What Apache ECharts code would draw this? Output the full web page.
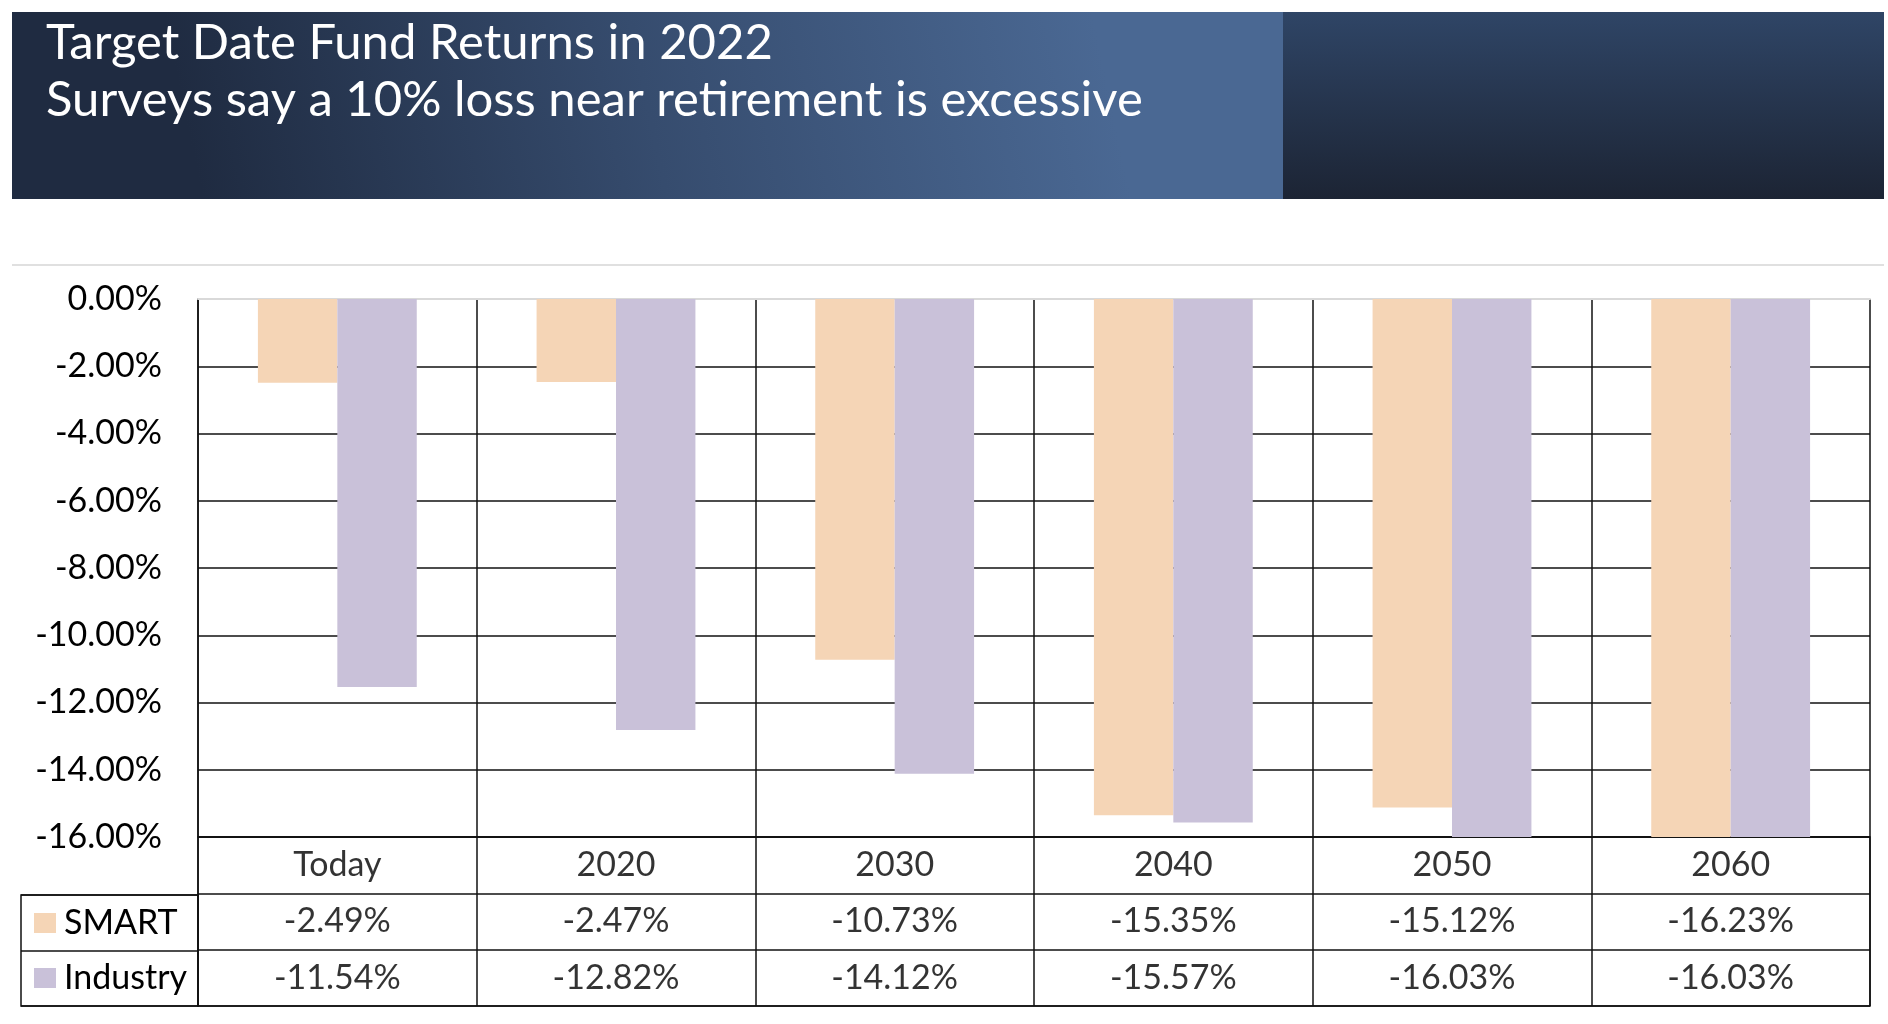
<!DOCTYPE html>
<html>
<head>
<meta charset="utf-8">
<script src="https://cdn.jsdelivr.net/npm/echarts@6/dist/echarts.min.js"></script>
<style>
html,body{margin:0;padding:0;background:#fff;}
#chart{width:1888px;height:1024px;}
</style>
</head>
<body>
<div id="chart"></div>
<script>
const categories = ['Today', '2020', '2030', '2040', '2050', '2060'];
const smartValues = [-2.49, -2.47, -10.73, -15.35, -15.12, -16.23];
const industryValues = [-11.54, -12.82, -14.12, -15.57, -16.03, -16.03];
const seriesNames = ['SMART', 'Industry'];
const tableRows = ['cat', 'SMART', 'Industry'];
const yMin = -16, yMax = 0, yStep = 2;
const titleText = 'Target Date Fund Returns in 2022';
const subtitleText = 'Surveys say a 10% loss near retirement is excessive';

const FONT = 'Lato';
const SMART_COLOR = '#f5d5b6';
const IND_COLOR = '#c9c1d9';
const LINE = {color: '#111', width: 1.5};
const fmt = v => v.toFixed(2) + '%';

const tableData = [];
categories.forEach((c, i) => {
  tableData.push({name: c, value: [c, 'cat']});
  tableData.push({name: fmt(smartValues[i]), value: [c, 'SMART']});
  tableData.push({name: fmt(industryValues[i]), value: [c, 'Industry']});
});

const chart = echarts.init(document.getElementById('chart'));
chart.setOption({
  backgroundColor: '#fff',
  animation: false,
  textStyle: {fontFamily: FONT},
  graphic: [
    {type: 'rect', z: 0, shape: {x: 12, y: 12, width: 1271, height: 187},
     style: {fill: {type: 'linear', x: 0.15, y: 1, x2: 0.85, y2: 0,
       colorStops: [{offset: 0, color: '#1f2b41'}, {offset: 0.5, color: '#364c6e'}, {offset: 1, color: '#4a6893'}]}}},
    {type: 'rect', z: 0, shape: {x: 1283, y: 12, width: 601, height: 187},
     style: {fill: {type: 'linear', x: 0, y: 0, x2: 0, y2: 1,
       colorStops: [{offset: 0, color: '#2f4566'}, {offset: 1, color: '#1c2434'}]}}},
    {type: 'line', z: 0, shape: {x1: 12, y1: 265, x2: 1884, y2: 265},
     style: {stroke: '#e0e0e0', lineWidth: 2}}
  ],
  title: {
    text: titleText,
    subtext: subtitleText,
    left: 46, top: 15, padding: 0, itemGap: 0,
    textStyle: {fontFamily: FONT, fontSize: 49, fontWeight: 'normal', color: '#fff', lineHeight: 57},
    subtextStyle: {fontFamily: FONT, fontSize: 49, color: '#fff', lineHeight: 57}
  },
  legend: {
    data: seriesNames,
    orient: 'vertical',
    left: 34, top: 903, padding: 0,
    itemWidth: 22, itemHeight: 20, itemGap: 15,
    icon: 'rect',
    selectedMode: false,
    textStyle: {fontFamily: FONT, fontSize: 34, color: '#000', lineHeight: 40, padding: [0, 0, 0, 3]}
  },
  grid: [
    {left: 198, top: 299, width: 1672, height: 538},
    {left: 198, top: 837, width: 1672, height: 169, show: true, borderColor: '#111', borderWidth: 1.5},
    {left: 21, top: 895, width: 177, height: 111, show: true, borderColor: '#111', borderWidth: 1.5}
  ],
  xAxis: [
    {gridIndex: 0, type: 'category', data: categories, position: 'top',
     axisLine: {show: true, onZero: false, lineStyle: {color: '#d9d9d9', width: 2}},
     axisTick: {show: false}, axisLabel: {show: false},
     splitLine: {show: true, interval: 0, lineStyle: LINE}},
    {gridIndex: 1, type: 'category', data: categories,
     axisLine: {show: false}, axisTick: {show: false}, axisLabel: {show: false},
     splitLine: {show: true, interval: 0, lineStyle: LINE}},
    {gridIndex: 2, type: 'value', show: false}
  ],
  yAxis: [
    {gridIndex: 0, type: 'value', min: yMin, max: yMax, interval: yStep,
     axisLine: {show: true, lineStyle: LINE},
     axisTick: {show: false},
     axisLabel: {formatter: fmt, fontFamily: FONT, fontSize: 34, color: '#000', margin: 36},
     splitLine: {show: true, showMaxLine: false, lineStyle: LINE}},
    {gridIndex: 1, type: 'category', data: tableRows, inverse: true,
     axisLine: {show: false}, axisTick: {show: false}, axisLabel: {show: false},
     splitLine: {show: true, interval: 0, lineStyle: LINE}},
    {gridIndex: 2, type: 'category', data: ['SMART', 'Industry'], inverse: true,
     axisLine: {show: false}, axisTick: {show: false}, axisLabel: {show: false},
     splitLine: {show: true, interval: 0, lineStyle: LINE}}
  ],
  series: [
    {name: 'SMART', type: 'bar', xAxisIndex: 0, yAxisIndex: 0, data: smartValues,
     itemStyle: {color: SMART_COLOR}, barGap: '0%', barCategoryGap: '43%'},
    {name: 'Industry', type: 'bar', xAxisIndex: 0, yAxisIndex: 0, data: industryValues,
     itemStyle: {color: IND_COLOR}, barGap: '0%', barCategoryGap: '43%'},
    {name: 'table', type: 'scatter', xAxisIndex: 1, yAxisIndex: 1, data: tableData,
     symbolSize: 1, itemStyle: {color: 'rgba(0,0,0,0)'}, silent: true,
     label: {show: true, position: 'inside', formatter: '{b}', fontFamily: FONT, fontSize: 34, color: '#000'}}
  ]
});
</script>
</body>
</html>
